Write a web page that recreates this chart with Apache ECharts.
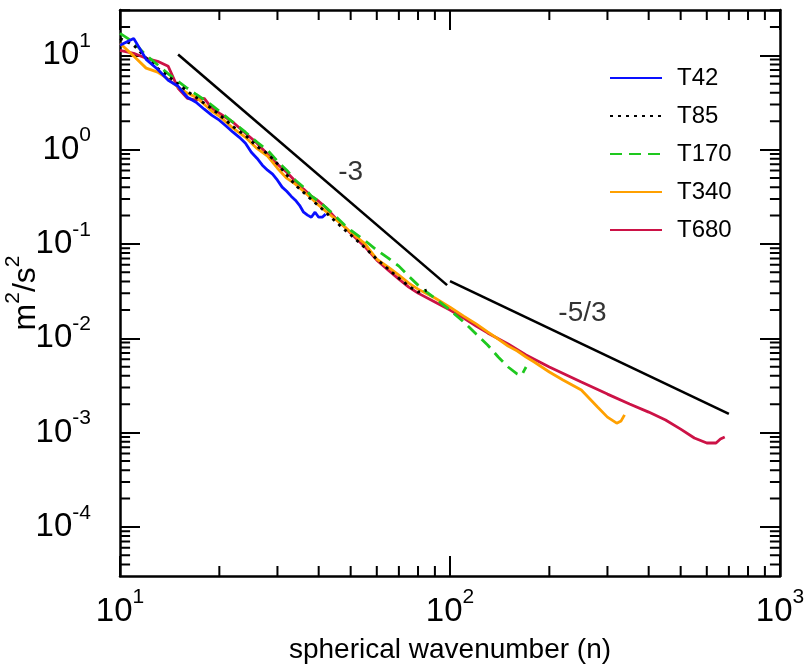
<!DOCTYPE html>
<html><head><meta charset="utf-8">
<script src="https://cdn.jsdelivr.net/npm/echarts@6/dist/echarts.min.js"></script>
<style>html,body{margin:0;padding:0;background:#fff}#c{width:807px;height:664px}</style>
</head><body><div id="c"></div>
<script>
const seriesNames = ['T42', 'T85', 'T170', 'T340', 'T680'];

const T42_n = [10,11,12,13,14,15,16,17,18,19,20,21,22,23,24,25,26,27,28,29,30,31,32,33,34,35,36,37,38,39,40,41,42];
const T42_E = [12.8,15.1,9.06,7.11,5.43,4.69,3.59,3.18,2.68,2.31,2.05,1.77,1.53,1.35,1.17,0.938,0.811,0.684,0.605,0.549,0.474,0.400,0.362,0.321,0.291,0.257,0.217,0.202,0.192,0.217,0.192,0.192,0.207];

const T85_n = [10,11,12,13,14,15,16,17,18,19,20,22,24,26,28,30,32,34,36,38,40,42,45,48,50,55,60,65,70,75,80,85];
const T85_E = [15.1,12.8,9.34,7.28,5.99,4.95,4.16,3.57,3.10,2.71,2.35,1.75,1.41,1.08,0.903,0.707,0.540,0.42,0.352,0.296,0.253,0.217,0.173,0.141,0.125,0.0925,0.0690,0.0541,0.0434,0.0357,0.0308,0.0324];

const T170_n = [10,11,12,13,14,15,16,17,18,19,20,22,24,26,28,30,32,34,36,38,40,42,45,48,50,55,60,65,70,75,80,85,90,100,110,120,130,140,150,160,165,168,170];
const T170_E = [17.1,13.7,10.0,7.93,6.36,5.30,4.47,3.86,3.38,2.95,2.55,1.95,1.53,1.20,0.985,0.753,0.605,0.474,0.400,0.321,0.284,0.245,0.197,0.158,0.140,0.110,0.0859,0.0708,0.0582,0.0456,0.0366,0.0308,0.0266,0.0199,0.0149,0.0111,0.00849,0.00633,0.00496,0.00418,0.00407,0.00460,0.00496];

const T340_n = [10,11,12,13,14,15,16,17,18,19,20,22,24,26,28,30,32,34,36,38,40,42,45,48,50,55,60,65,70,75,80,90,100,110,120,130,140,150,160,170,180,200,220,250,280,300,320,330,338];
const T340_E = [13.4,9.8,7.31,6.63,5.59,4.58,3.96,3.59,3.03,2.55,2.26,1.69,1.35,1.03,0.851,0.635,0.498,0.430,0.362,0.305,0.257,0.222,0.183,0.151,0.133,0.102,0.0691,0.0568,0.0467,0.0385,0.0332,0.0267,0.0214,0.0172,0.0142,0.0117,0.00982,0.00828,0.00733,0.00633,0.00560,0.00439,0.00361,0.00283,0.00187,0.00146,0.00126,0.00133,0.00154];

const T680_n = [10,11,12,13,14,15,16,17,18,19,20,22,24,26,28,30,32,34,36,38,40,42,45,48,50,55,60,65,70,75,80,90,100,110,120,130,150,170,200,250,300,350,400,450,500,550,600,640,660,680];
const T680_E = [11.3,10.5,9.29,8.63,7.64,4.47,3.50,3.34,3.50,2.74,2.43,1.95,1.49,1.17,0.894,0.700,0.576,0.463,0.381,0.321,0.284,0.245,0.187,0.151,0.130,0.0948,0.0673,0.0527,0.0424,0.0349,0.0301,0.0242,0.0199,0.0164,0.0135,0.0114,0.00869,0.00664,0.00496,0.00344,0.00256,0.00201,0.00165,0.00136,0.00109,0.000877,0.000776,0.000776,0.000855,0.000897];

// reference slope lines (endpoints)
const slope3_n = [15, 98];
const slope3_E = [10.2, 0.0366];
const slope53_n = [100, 700];
const slope53_E = [0.0404, 0.00158];
const slopeLabels = [
  {n: 50, E: 0.577, text: '-3'},
  {n: 252, E: 0.0185, text: '-5/3'}
];

// tick values
const xMajor = [10, 100, 1000];
const yMajor = [1e-4, 1e-3, 1e-2, 1e-1, 1, 10];
const xDecades = [1, 2];
const yDecades = [-5, -4, -3, -2, -1, 0, 1];
const minorMultipliers = [2, 3, 4, 5, 6, 7, 8, 9];

const colors = {T42: '#0a10ff', T85: '#000000', T170: '#1ec81e', T340: '#ffa000', T680: '#cc1246'};
const dashes = {T42: 'solid', T85: [3, 5], T170: [12, 7], T340: 'solid', T680: 'solid'};

function zip(a, b) { return a.map((v, i) => [v, b[i]]); }
const dataMap = {
  T42: zip(T42_n, T42_E), T85: zip(T85_n, T85_E), T170: zip(T170_n, T170_E),
  T340: zip(T340_n, T340_E), T680: zip(T680_n, T680_E)
};

const yMin = Math.pow(10, -4.52), yMax = Math.pow(10, 1.48);
const xMin = 10, xMax = 1000;

const xMinor = [], yMinor = [];
xDecades.forEach(d => minorMultipliers.forEach(m => xMinor.push(m * Math.pow(10, d))));
yDecades.forEach(d => minorMultipliers.forEach(m => {
  const v = m * Math.pow(10, d);
  if (v > yMin && v < yMax) yMinor.push(v);
}));

const FONT = '"Liberation Sans", Arial, Helvetica, sans-serif';
function powLabel(v) {
  const e = Math.round(Math.log10(v));
  return '{b|10}{s|' + (e < 0 ? '-' + (-e) : e) + '}';
}
const richLab = {
  b: {fontSize: 33, fontFamily: FONT, color: '#000'},
  s: {fontSize: 21, fontFamily: FONT, color: '#000', padding: [0, 0, 28, 0]}
};

function axisBase(extra) {
  return Object.assign({
    type: 'log', logBase: 10,
    axisLine: {show: true, lineStyle: {color: '#000', width: 2.5}},
    axisLabel: {show: false},
    minorTick: {show: false},
    splitLine: {show: false}, minorSplitLine: {show: false}
  }, extra);
}
function tickStyle(len, values) {
  return {show: true, inside: true, length: len, customValues: values, lineStyle: {color: '#000', width: 2}};
}

const GRID = {left: 120, top: 10, width: 660, height: 566};

// minor tick marks drawn as short line segments in data space (10 px long)
const MINOR_PX = 10;
const xDecadePx = GRID.width / (Math.log10(xMax) - Math.log10(xMin));
const yDecadePx = GRID.height / (Math.log10(yMax) - Math.log10(yMin));
const fx = Math.pow(10, MINOR_PX / xDecadePx);   // factor along x for 10 px
const fy = Math.pow(10, MINOR_PX / yDecadePx);   // factor along y for 10 px
const EDGE = 1.0005;
function segData(list) {
  const out = [];
  list.forEach(seg => { out.push(seg[0], seg[1], [seg[0][0], '-']); });
  return out;
}
const tickBottom = segData(xMinor.map(v => [[v, yMin * EDGE], [v, yMin * EDGE * fy]]));
const tickTop = segData(xMinor.map(v => [[v, yMax / EDGE], [v, yMax / EDGE / fy]]));
const tickLeft = segData(yMinor.map(v => [[xMin * EDGE, v], [xMin * EDGE * fx, v]]));
const tickRight = segData(yMinor.map(v => [[xMax / EDGE, v], [xMax / EDGE / fx, v]]));

function tickLineSeries(name, data) {
  return {
    name, type: 'line', data, symbol: 'none', showSymbol: false, connectNulls: false,
    lineStyle: {color: '#000', width: 2}, silent: true, clip: false, animation: false, z: 20,
    emphasis: {disabled: true}
  };
}

const series = seriesNames.map((name, i) => ({
  name, type: 'line', data: dataMap[name], symbol: 'none', showSymbol: false,
  lineStyle: {color: colors[name], width: 2.8, type: dashes[name]},
  itemStyle: {color: colors[name]},
  z: 10 - i, clip: true, animation: false
}));
series.push({
  name: 'slope3', type: 'line', data: zip(slope3_n, slope3_E), symbol: 'none',
  lineStyle: {color: '#000', width: 2.6}, animation: false, z: 3
});
series.push({
  name: 'slope53', type: 'line', data: zip(slope53_n, slope53_E), symbol: 'none',
  lineStyle: {color: '#000', width: 2.6}, animation: false, z: 3
});
series.push({
  name: 'slopeText', type: 'scatter', symbolSize: 0, animation: false,
  data: slopeLabels.map(d => ({value: [d.n, d.E], label: {formatter: d.text}})),
  label: {show: true, position: 'inside', fontSize: 28, fontFamily: FONT, color: '#000'}
});
series.push(tickLineSeries('minorBottom', tickBottom));
series.push(tickLineSeries('minorTop', tickTop));
series.push(tickLineSeries('minorLeft', tickLeft));
series.push(tickLineSeries('minorRight', tickRight));

const chart = echarts.init(document.getElementById('c'), null, {renderer: 'canvas'});
chart.setOption({
  animation: false,
  backgroundColor: '#fff',
  grid: Object.assign({containLabel: false, outerBoundsMode: 'none'}, GRID),
  legend: {
    data: seriesNames, orient: 'vertical', left: 604, top: 60,
    itemWidth: 52, itemHeight: 14, itemGap: 12,
    itemStyle: {opacity: 0},
    textStyle: {fontSize: 24, fontFamily: FONT, color: '#000', lineHeight: 26, padding: [0, 0, 0, 10]}
  },
  xAxis: [
    axisBase({position: 'bottom', min: xMin, max: xMax, splitNumber: 2,
      axisTick: tickStyle(20, xMajor),
      name: 'spherical wavenumber (n)', nameLocation: 'middle', nameGap: 60,
      nameTextStyle: {fontSize: 28, fontFamily: FONT, color: '#000'},
      axisLabel: {show: true, margin: 11, customValues: xMajor, formatter: powLabel, rich: richLab}}),
    axisBase({position: 'top', min: xMin, max: xMax, splitNumber: 2, axisTick: tickStyle(20, xMajor)})
  ],
  yAxis: [
    axisBase({position: 'left', min: yMin, max: yMax, splitNumber: 6,
      axisTick: tickStyle(20, yMajor),
      name: '{b|m}{s|2}{b|/s}{s|2}', nameLocation: 'middle', nameGap: 70, nameRotate: 90,
      nameMoveOverlap: false,
      nameTextStyle: {rich: {
        b: {fontSize: 32, fontFamily: FONT, color: '#000'},
        s: {fontSize: 21, fontFamily: FONT, color: '#000', padding: [0, 0, 26, 0]}}},
      axisLabel: {show: true, margin: 29, customValues: yMajor, formatter: powLabel, rich: richLab}}),
    axisBase({position: 'right', min: yMin, max: yMax, splitNumber: 6, axisTick: tickStyle(20, yMajor)})
  ],
  series
});
</script></body></html>
